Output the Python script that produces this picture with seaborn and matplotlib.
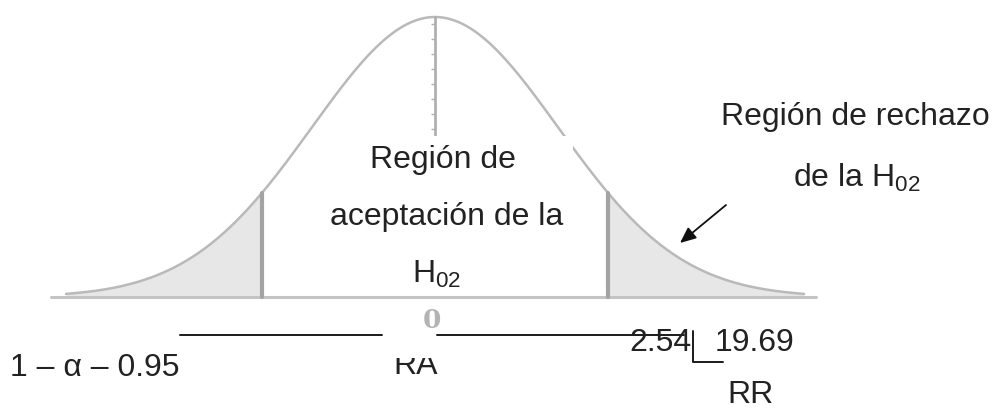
import numpy as np
import matplotlib
matplotlib.use("Agg")
import matplotlib.pyplot as plt
import seaborn as sns
import pandas as pd
from matplotlib.patches import Rectangle

# ---------------- data ----------------
z_range = [-3.0, 3.0]              # extent of the drawn normal curve (in sigma units)
critical_z = [-1.41, 1.41]         # visual position of the critical lines
center_tick_label = "0"
acceptance_lines = ["Región de", "aceptación de la", r"$\mathregular{H_{02}}$"]
rejection_lines = ["Región de rechazo", r"de la $\mathregular{H_{02}}$"]
confidence_label = "1 – α – 0.95"
ra_label = "RA"
rr_label = "RR"
critical_labels = ["2.54", "19.69"]

# ---------------- style ----------------
sns.set_theme(style="white")
plt.rcParams["font.family"] = ["Liberation Sans", "DejaVu Sans"]
plt.rcParams["mathtext.fontset"] = "custom"
plt.rcParams["mathtext.rm"] = "Liberation Sans"

W, H = 996, 410
fig = plt.figure(figsize=(W / 100, H / 100), dpi=100)
ax = fig.add_axes([0, 0, 1, 1])
# pixel mapping: x_px = 435 + 123*z ; y_px = 298 - 280*h
ax.set_xlim(-435 / 123, (W - 435) / 123)
ax.set_ylim(-(H - 298) / 280, 298 / 280)
ax.axis("off")


def fx(px):
    return px / W


def fy(py):
    return 1 - py / H


z = np.linspace(z_range[0], z_range[1], 601)
h = np.exp(-0.5 * z ** 2)
df = pd.DataFrame({"z": z, "h": h})

curve_col = "#b9b9b9"
fill_col = "#e7e7e7"
crit_col = "#a3a3a3"
text_col = "#222222"

# tails
lo, hi = critical_z
ax.fill_between(z, 0, h, where=z <= lo, color=fill_col, lw=0, zorder=1)
ax.fill_between(z, 0, h, where=z >= hi, color=fill_col, lw=0, zorder=1)

# curve
sns.lineplot(data=df, x="z", y="h", ax=ax, color=curve_col, lw=1.8, zorder=2)

# baseline
ax.plot([z_range[0] - 0.12, z_range[1] + 0.1], [0, 0], color="#c4c4c4", lw=2.2, zorder=2)

# critical lines
for c in critical_z:
    ax.plot([c, c], [0, np.exp(-0.5 * c ** 2)], color=crit_col, lw=3, zorder=3)

# central axis with tiny ticks
ax.plot([0, 0], [0.58, 1.0], color="#b0b0b0", lw=2, zorder=3)
ticks_h = np.arange(0.60, 1.0, 15 / 280)
ax.plot(np.zeros_like(ticks_h), ticks_h, ls="none", marker=0, ms=3,
        color="#b0b0b0", mew=1, zorder=3)

# white box behind acceptance text
fig.patches.append(Rectangle((fx(330), fy(295)), (573 - 330) / W, (295 - 137) / H,
                             transform=fig.transFigure, facecolor="white",
                             edgecolor="none", zorder=4))

fs = 23
# acceptance text
fig.text(fx(443), fy(160), acceptance_lines[0], ha="center", va="center",
         fontsize=fs, color=text_col, zorder=6)
fig.text(fx(447), fy(217), acceptance_lines[1], ha="center", va="center",
         fontsize=fs, color=text_col, zorder=6)
fig.text(fx(437), fy(274), acceptance_lines[2], ha="center", va="center",
         fontsize=fs, color=text_col, zorder=6)

# rejection text
fig.text(fx(855), fy(117), rejection_lines[0], ha="center", va="center",
         fontsize=fs, color=text_col, zorder=6)
fig.text(fx(857), fy(178), rejection_lines[1], ha="center", va="center",
         fontsize=fs, color=text_col, zorder=6)

# arrow
ax.annotate("", xy=(fx(680), fy(244)), xycoords="figure fraction",
            xytext=(fx(726), fy(206)), textcoords="figure fraction",
            arrowprops=dict(arrowstyle="-|>,head_length=0.8,head_width=0.35",
                            color="#111111", lw=1.3, shrinkA=0, shrinkB=0))

# centre tick label
fig.text(fx(432), fy(321), center_tick_label, ha="center", va="center",
         fontsize=19, fontweight="bold", color="#b3b3b3",
         family=["DejaVu Serif"], zorder=6)

# lower annotation lines
line_col = "#1a1a1a"
for x0, x1 in [(180, 382), (437, 684)]:
    fig.add_artist(plt.Line2D([fx(x0), fx(x1)], [fy(336), fy(336)],
                              transform=fig.transFigure, color=line_col, lw=1.4))
fig.add_artist(plt.Line2D([fx(693), fx(693), fx(723)], [fy(332), fy(363), fy(363)],
                          transform=fig.transFigure, color=line_col, lw=1.4))

# bottom texts
fig.text(fx(10), fy(368), confidence_label, ha="left", va="center",
         fontsize=fs, color=text_col, zorder=6)
fig.text(fx(660), fy(343), critical_labels[0], ha="center", va="center",
         fontsize=fs, color=text_col, zorder=6)
fig.text(fx(754), fy(343), critical_labels[1], ha="center", va="center",
         fontsize=fs, color=text_col, zorder=6)
fig.text(fx(750), fy(395), rr_label, ha="center", va="center",
         fontsize=fs, color=text_col, zorder=6)
fig.text(fx(416), fy(366), ra_label, ha="center", va="center",
         fontsize=fs, color=text_col, zorder=6)
# top of "RA" is hidden in the reference
fig.patches.append(Rectangle((fx(388), fy(359)), 60 / W, 19 / H,
                             transform=fig.transFigure, facecolor="white",
                             edgecolor="none", zorder=7))

fig.savefig("out.png", dpi=100)
